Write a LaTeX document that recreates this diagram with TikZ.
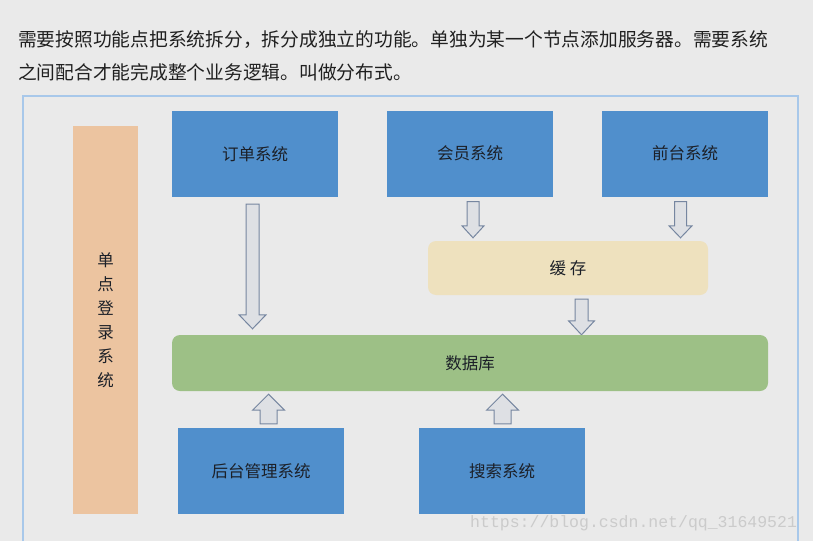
\documentclass[tikz,border=0pt]{standalone}
\usepackage{fontspec}
\setmainfont{Noto Sans CJK SC}
\newfontfamily\urlfont{Liberation Mono}
\usepackage{xcolor}
\usepackage{tikz}
\usetikzlibrary{calc,positioning,backgrounds}
\pgfdeclarelayer{edgelayer}
\pgfdeclarelayer{nodelayer}
\pgfsetlayers{background,edgelayer,nodelayer,main}
\definecolor{pagegray}{RGB}{234,234,234}
\definecolor{frameblue}{RGB}{168,200,234}
\definecolor{boxblue}{RGB}{80,143,204}
\definecolor{ssopeach}{RGB}{236,196,160}
\definecolor{cachecream}{RGB}{238,225,190}
\definecolor{dbgreen}{RGB}{157,192,134}
\definecolor{arrowfill}{RGB}{222,224,228}
\definecolor{arrowline}{RGB}{118,134,160}
\definecolor{labeltext}{RGB}{28,32,40}
\definecolor{introtext}{RGB}{32,32,32}
\definecolor{marktext}{RGB}{203,203,203}
\newcommand{\introfont}{\fontsize{18.75}{32}\selectfont}
\newcommand{\lblfont}{\fontsize{16.5}{20}\selectfont}
\newcommand{\ssolbl}{\fontsize{16.5}{24}\selectfont}
\tikzstyle{none}=[inner sep=0mm]
\tikzstyle{blue box}=[rectangle,fill=boxblue,minimum width=166pt,minimum height=86pt,inner sep=0pt,font=\lblfont,text=labeltext]
\tikzstyle{sso box}=[rectangle,fill=ssopeach,minimum width=65pt,minimum height=388pt,inner sep=0pt,align=center,font=\ssolbl,text=labeltext]
\tikzstyle{cache box}=[rectangle,rounded corners=8pt,fill=cachecream,minimum width=280pt,minimum height=54pt,inner sep=0pt,font=\lblfont,text=labeltext]
\tikzstyle{db box}=[rectangle,rounded corners=8pt,fill=dbgreen,minimum width=596pt,minimum height=56pt,inner sep=0pt,font=\lblfont,text=labeltext]
\tikzset{
	blk/.style n args={3}{draw=arrowline,fill=arrowfill,line width=1pt,
		to path={let \p1=(\tikztostart), \p2=(\tikztotarget), \n1={ifthenelse(\y2>\y1,1,-1)} in
			({\x1-#1/2},{\y1}) -- ({\x1-#1/2},{\y2-(\n1)*#3}) -- ({\x1-#2/2},{\y2-(\n1)*#3}) -- ({\x1},{\y2})
			-- ({\x1+#2/2},{\y2-(\n1)*#3}) -- ({\x1+#1/2},{\y2-(\n1)*#3}) -- ({\x1+#1/2},{\y1}) -- cycle}}
}

\begin{document}
\begin{tikzpicture}[x=1pt,y=-1pt]
	\useasboundingbox (0,0) rectangle (813,551);
	\begin{pgfonlayer}{background}
		\fill[pagegray] (0,0) rectangle (813,541);
		\draw[frameblue,line width=1.5pt] (23,541) |- (798,96) -- (798,541);
	\end{pgfonlayer}
	\begin{pgfonlayer}{nodelayer}
		\node [style=none,anchor=base west,font=\introfont,text=introtext] (intro1) at (18, 47) {需要按照功能点把系统拆分，拆分成独立的功能。单独为某一个节点添加服务器。需要系统};
		\node [style=none,anchor=base west,font=\introfont,text=introtext] (intro2) at (18, 79) {之间配合才能完成整个业务逻辑。叫做分布式。};
		\node [style={sso box}] (sso) at (105.5, 320) {单\\点\\登\\录\\系\\统};
		\node [style={blue box}] (order) at (255, 154) {订单系统};
		\node [style={blue box}] (member) at (470, 153.5) {会员系统};
		\node [style={blue box}] (front) at (685, 153.5) {前台系统};
		\node [style={cache box}] (cache) at (568, 268) {缓 存};
		\node [style={db box}] (db) at (470, 363) {数据库};
		\node [style={blue box}] (admin) at (261, 471) {后台管理系统};
		\node [style={blue box}] (search) at (502, 471) {搜索系统};
		\node [style=none,anchor=base west,font=\urlfont\fontsize{16.5}{20}\selectfont,text=marktext] (mark) at (470, 527) {https://blog.csdn.net/qq\_31649521};
	\end{pgfonlayer}
	\begin{pgfonlayer}{edgelayer}
		\draw [blk={13pt}{27pt}{14pt}] ([xshift=-2.5pt,yshift=-7pt]order.south) to ([yshift=6pt]db.north);
		\draw [blk={12pt}{22pt}{12pt}] ([xshift=3pt,yshift=-5pt]member.south) to ([yshift=3pt]cache.north);
		\draw [blk={12pt}{23pt}{12pt}] ([xshift=-4.5pt,yshift=-5pt]front.south) to ([yshift=3pt]cache.north);
		\draw [blk={13pt}{26pt}{14pt}] ([xshift=13.5pt,yshift=-4pt]cache.south) to (db.north);
		\draw [blk={17pt}{32pt}{16pt}] ([xshift=7.5pt,yshift=4pt]admin.north) to ([yshift=-3pt]db.south);
		\draw [blk={17pt}{32pt}{16pt}] ([xshift=0.5pt,yshift=4pt]search.north) to ([yshift=-3pt]db.south);
	\end{pgfonlayer}
\end{tikzpicture}
\end{document}
